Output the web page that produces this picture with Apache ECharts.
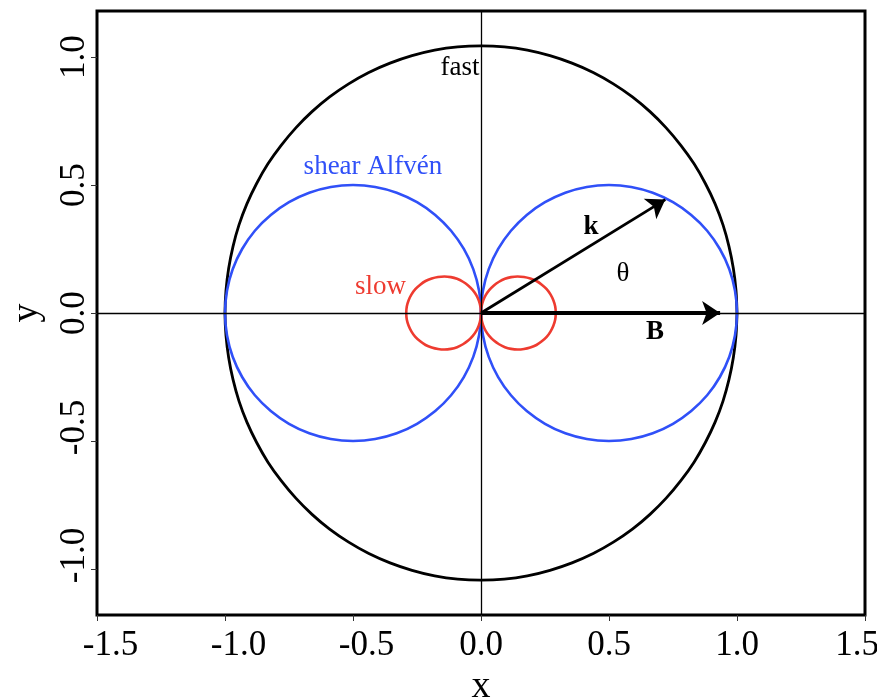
<!DOCTYPE html>
<html>
<head>
<meta charset="utf-8">
<script src="https://cdn.jsdelivr.net/npm/echarts@6/dist/echarts.min.js"></script>
<style>
html,body{margin:0;padding:0;background:#fff;}
#chart{width:877px;height:697px;}
</style>
</head>
<body>
<div id="chart"></div>
<script>
// Polar angle (deg) between wave vector k and B, and phase speeds
const angleDeg = [0,5,10,15,20,25,30,35,40,45,50,55,60,65,70,75,80,85,90,
  95,100,105,110,115,120,125,130,135,140,145,150,155,160,165,170,175,180,
  185,190,195,200,205,210,215,220,225,230,235,240,245,250,255,260,265,270,
  275,280,285,290,295,300,305,310,315,320,325,330,335,340,345,350,355,360];
const fastSpeed = [
  1.000,1.000,1.001,1.003,1.006,1.009,1.012,1.016,1.019,1.023,1.027,1.031,1.034,1.037,1.039,1.041,1.043,1.044,1.044,
  1.044,1.043,1.041,1.039,1.037,1.034,1.031,1.027,1.023,1.019,1.016,1.012,1.009,1.006,1.003,1.001,1.000,1.000,
  1.000,1.001,1.003,1.006,1.009,1.012,1.016,1.019,1.023,1.027,1.031,1.034,1.037,1.039,1.041,1.043,1.044,1.044,
  1.044,1.043,1.041,1.039,1.037,1.034,1.031,1.027,1.023,1.019,1.016,1.012,1.009,1.006,1.003,1.001,1.000,1.000];
const alfvenSpeed = [
  1.000,0.996,0.985,0.966,0.940,0.906,0.866,0.819,0.766,0.707,0.643,0.574,0.500,0.423,0.342,0.259,0.174,0.087,0.000,
  0.087,0.174,0.259,0.342,0.423,0.500,0.574,0.643,0.707,0.766,0.819,0.866,0.906,0.940,0.966,0.985,0.996,1.000,
  0.996,0.985,0.966,0.940,0.906,0.866,0.819,0.766,0.707,0.643,0.574,0.500,0.423,0.342,0.259,0.174,0.087,0.000,
  0.087,0.174,0.259,0.342,0.423,0.500,0.574,0.643,0.707,0.766,0.819,0.866,0.906,0.940,0.966,0.985,0.996,1.000];
const slowSpeed = [
  0.292,0.291,0.287,0.281,0.273,0.262,0.250,0.235,0.219,0.202,0.183,0.163,0.141,0.119,0.096,0.073,0.049,0.024,0.000,
  0.024,0.049,0.073,0.096,0.119,0.141,0.163,0.183,0.202,0.219,0.235,0.250,0.262,0.273,0.281,0.287,0.291,0.292,
  0.291,0.287,0.281,0.273,0.262,0.250,0.235,0.219,0.202,0.183,0.163,0.141,0.119,0.096,0.073,0.049,0.024,0.000,
  0.024,0.049,0.073,0.096,0.119,0.141,0.163,0.183,0.202,0.219,0.235,0.250,0.262,0.273,0.281,0.287,0.291,0.292];

const xTicks = [-1.5,-1.0,-0.5,0.0,0.5,1.0,1.5];
const yTicks = [-1.0,-0.5,0.0,0.5,1.0];

// vectors
const vectorB = [[0,0],[0.934,0]];
const vectorK = [[0,0],[0.720,0.443]];

// annotation texts and their anchor points (data units)
const labelText = ['fast','shear Alfvén','slow','k','θ','B'];
const labelX = [-0.082,-0.422,-0.393,0.430,0.555,0.680];
const labelY = [0.958,0.570,0.103,0.335,0.153,-0.075];

const SERIF = "'Liberation Serif','Times New Roman',Times,serif";

function toXY(speeds, idxList){
  return idxList.map(i => {
    const t = angleDeg[i]*Math.PI/180;
    return [speeds[i]*Math.cos(t), speeds[i]*Math.sin(t)];
  });
}
function range(a,b){ const r=[]; for(let i=a;i<=b;i++) r.push(i); return r; }
const i90 = angleDeg.indexOf(90), i270 = angleDeg.indexOf(270), i360 = angleDeg.indexOf(360);
const allIdx = range(0, i360);
const rightLoopIdx = range(i270, i360 - 1).concat(range(0, i90));
const leftLoopIdx = range(i90, i270);

function curve(name, data, color, width){
  return {
    name, type:'line', data, showSymbol:false, smooth:0.34,
    lineStyle:{color, width}, z:3, silent:true
  };
}

const BLUE = '#3050F8', RED = '#EE3B30';
const labelColors = ['#000', BLUE, RED, '#000', '#000', '#000'];
const labelBold = [false,false,false,true,false,true];

function fmtX(v){
  const s = v.toFixed(1);
  if (v < 0) return '{n|' + s + '}';
  if (v === xTicks[xTicks.length-1]) return '{e|' + s + '}';
  return '{p|' + s + '}';
}
function fmtY(v){
  const s = v.toFixed(1);
  return v < 0 ? '{n|' + s + '}' : '{p|' + s + '}';
}
const tickRich = {
  n:{fontFamily:SERIF,fontSize:35,color:'#000',padding:[0,0,0,27]},
  e:{fontFamily:SERIF,fontSize:35,color:'#000',padding:[0,16,0,0]},
  p:{fontFamily:SERIF,fontSize:35,color:'#000'}
};

const chart = echarts.init(document.getElementById('chart'), null, {renderer:'canvas'});
chart.setOption({
  animation:false,
  backgroundColor:'#fff',
  grid:{left:97,right:12,top:11,bottom:82,containLabel:false,outerBoundsMode:'none',
    show:true,borderColor:'#000',borderWidth:3,backgroundColor:'transparent'},
  xAxis:{
    type:'value', min:-1.5, max:1.5, interval:0.5,
    name:'x', nameLocation:'middle', nameGap:48,
    nameTextStyle:{fontFamily:SERIF,fontSize:38,color:'#000'},
    axisLine:{show:false,onZero:false},
    splitLine:{show:false},
    axisTick:{show:true,inside:false,length:6,lineStyle:{color:'#333',width:1}},
    axisLabel:{margin:13,formatter:fmtX,rich:tickRich,fontFamily:SERIF,fontSize:35,color:'#000'}
  },
  yAxis:{
    type:'value', min:-1.18, max:1.18,
    name:'y', nameLocation:'middle', nameGap:51, nameRotate:90,
    nameTextStyle:{fontFamily:SERIF,fontSize:38,color:'#000'},
    axisLine:{show:false,onZero:false},
    splitLine:{show:false},
    axisTick:{show:true,inside:false,length:6,customValues:yTicks,lineStyle:{color:'#333',width:1}},
    axisLabel:{margin:5,rotate:90,customValues:yTicks,formatter:fmtY,rich:tickRich,fontFamily:SERIF,fontSize:35,color:'#000'}
  },
  series:[
    {
      type:'line', data:[], silent:true, z:1,
      markLine:{
        silent:true, symbol:['none','none'], label:{show:false}, animation:false,
        lineStyle:{color:'#000',width:1.3,type:'solid',opacity:1},
        emphasis:{disabled:true},
        data:[{xAxis:0},{yAxis:0}]
      }
    },
    curve('fast', toXY(fastSpeed, allIdx), '#000', 2.8),
    curve('alfven-right', toXY(alfvenSpeed, rightLoopIdx), BLUE, 2.6),
    curve('alfven-left', toXY(alfvenSpeed, leftLoopIdx), BLUE, 2.6),
    curve('slow-right', toXY(slowSpeed, rightLoopIdx), RED, 2.6),
    curve('slow-left', toXY(slowSpeed, leftLoopIdx), RED, 2.6),
    {
      type:'lines', coordinateSystem:'cartesian2d', silent:true, z:5,
      symbol:['none','arrow'], symbolSize:[13,18],
      data:[
        {coords:vectorB, lineStyle:{color:'#000',width:4.2}},
        {coords:vectorK, lineStyle:{color:'#000',width:2.8}}
      ],
      lineStyle:{color:'#000',opacity:1,curveness:0}
    },
    {
      type:'scatter', silent:true, z:6, symbolSize:0, itemStyle:{opacity:1},
      data: labelText.map((t,i)=>({
        value:[labelX[i], labelY[i]], name:t,
        label:{show:true, position:'inside', formatter:t, align:'center', verticalAlign:'middle',
          fontFamily:SERIF, fontSize:27, color:labelColors[i], opacity:1, textBorderWidth:0,
          fontWeight: labelBold[i] ? 'bold' : 'normal'}
      }))
    }
  ]
});
</script>
</body>
</html>
